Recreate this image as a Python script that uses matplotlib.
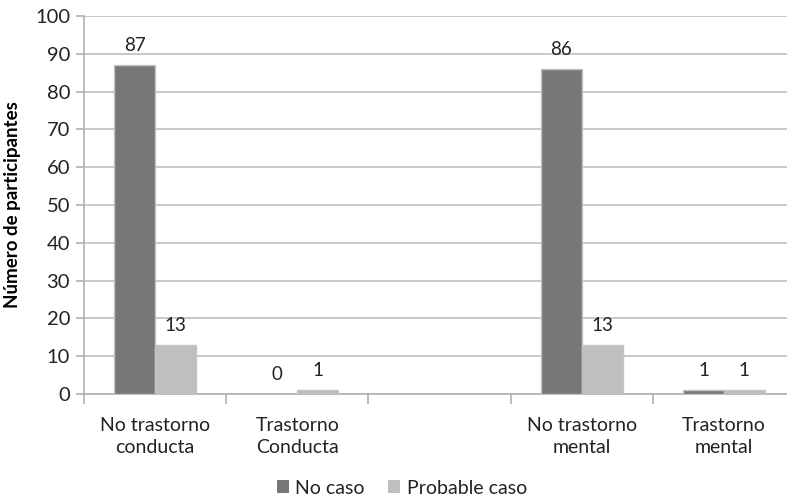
import numpy as np
import matplotlib
matplotlib.use("Agg")
import matplotlib.pyplot as plt
from matplotlib.patches import Patch

plt.rcParams['font.family'] = ['Lato', 'DejaVu Sans']

categories = ["No trastorno\nconducta", "Trastorno\nConducta", "",
              "No trastorno\nmental", "Trastorno\nmental"]
no_caso = [87, 0, None, 86, 1]
probable_caso = [13, 1, None, 13, 1]
series_names = ["No caso", "Probable caso"]
colors = ["#777777", "#bfbfbf"]

fig = plt.figure(figsize=(7.87, 4.99), dpi=100)
# axes intentionally run a little past the right edge of the canvas
ax = fig.add_axes([84 / 787, 105 / 499, 711 / 787, 378 / 499])

x = np.arange(len(categories))
width = 0.287
text_color = "#222222"

for i, (vals, col) in enumerate(zip([no_caso, probable_caso], colors)):
    offs = (i - 0.5) * width
    for xi, v in zip(x, vals):
        if v is None:
            continue
        ax.bar(xi + offs, v, width=width, color=col, edgecolor="#c4c4c4",
               linewidth=1.0, zorder=3)
        ax.text(xi + offs, v + 3.0, str(v), ha="center", va="bottom",
                fontsize=13.5, color=text_color, zorder=4)

ax.set_xlim(-0.5, len(categories) - 0.5)
ax.set_ylim(0, 100)
ax.set_yticks(np.arange(0, 101, 10))
ax.yaxis.grid(True, color="#c8c8c8", linewidth=1.4, zorder=0)
ax.set_axisbelow(True)

for side in ["top", "right"]:
    ax.spines[side].set_visible(False)
ax.spines["left"].set_color("#b0b0b0")
ax.spines["bottom"].set_color("#b0b0b0")
ax.spines["left"].set_linewidth(1.2)
ax.spines["bottom"].set_linewidth(1.2)

# category boundary tick marks
ax.set_xticks(np.arange(-0.5, len(categories) + 0.5, 1.0))
ax.set_xticklabels([])
ax.tick_params(axis="x", length=7, width=1.2, color="#b0b0b0", direction="out")
ax.tick_params(axis="y", length=6, width=1.2, color="#b0b0b0", labelsize=14.5,
               labelcolor=text_color, pad=4)

for xi, lab in zip(x, categories):
    ax.text(xi, -6.0, lab, ha="center", va="top", fontsize=14,
            color=text_color, linespacing=1.35)

ax.set_ylabel("Número de participantes", fontsize=13.5, fontweight="bold",
              color="black", labelpad=10)

handles = [Patch(facecolor=c, edgecolor="none") for c in colors]
fig.legend(handles, series_names, loc="center", bbox_to_anchor=(402 / 787, 1 - 488 / 499),
           ncol=2, frameon=False, fontsize=14, handlelength=0.6, handleheight=0.6,
           handletextpad=0.35, columnspacing=1.2, labelcolor=text_color)

fig.savefig("out.png", dpi=100)
